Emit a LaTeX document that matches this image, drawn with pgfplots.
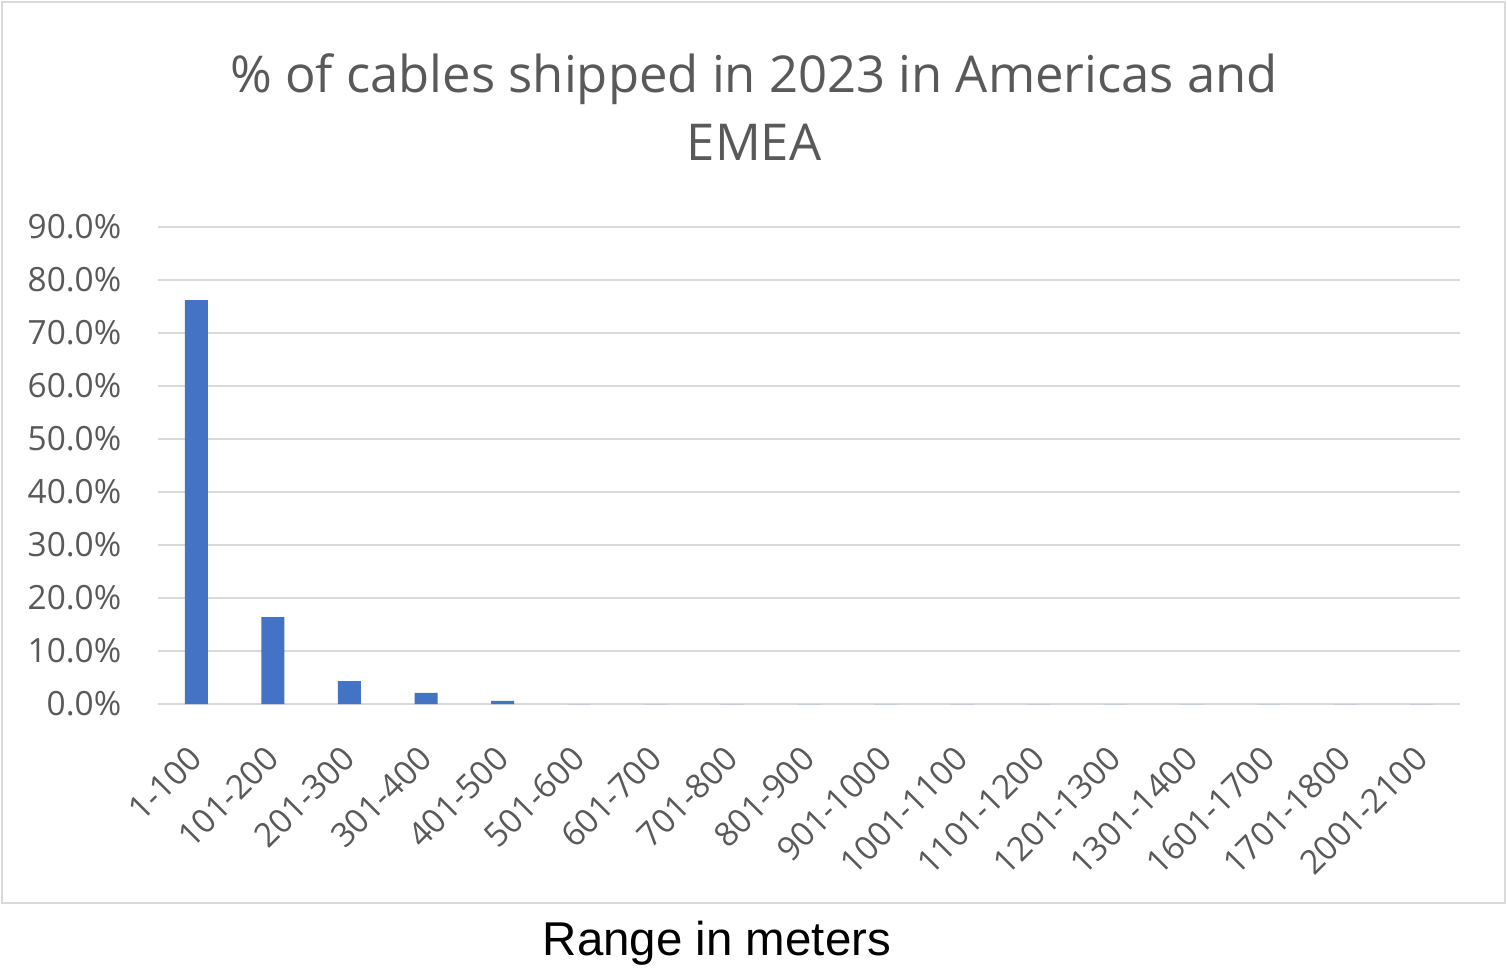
\documentclass[border=0pt]{standalone}
\usepackage{pgfplots}
\pgfplotsset{compat=1.18}
\usepackage{fontspec}
\setmainfont{Open Sans}
\newfontfamily\arialfont{Liberation Sans}
\definecolor{barblue}{HTML}{4472C4}
\definecolor{gridgray}{HTML}{D9D9D9}
\definecolor{textgray}{HTML}{595959}
\begin{document}
\begin{tikzpicture}
% page size and chart frame
\path[use as bounding box] (0,0) rectangle (15.07cm,-9.67cm);
\draw[gridgray, line width=0.6pt] (0.02cm,-0.02cm) rectangle (15.05cm,-9.03cm);
% title
\node[anchor=base, text=textgray, font=\fontsize{14.45}{17}\selectfont] at (7.54cm,-0.92cm) {\% of cables shipped in 2023 in Americas and};
\node[anchor=base, text=textgray, font=\fontsize{14.45}{17}\selectfont] at (7.54cm,-1.60cm) {EMEA};
\begin{axis}[
    at={(1.58cm,-7.04cm)}, anchor=south west,
    scale only axis,
    width=13.02cm, height=4.77cm,
    ybar, bar width=0.23cm,
    xmin=-0.5, xmax=16.5,
    ymin=0, ymax=90,
    xtick={0,...,16},
    xticklabels={1-100,101-200,201-300,301-400,401-500,501-600,601-700,701-800,801-900,901-1000,1001-1100,1101-1200,1201-1300,1301-1400,1601-1700,1701-1800,2001-2100},
    ytick={0,10,...,90},
    yticklabels={0.0\%,10.0\%,20.0\%,30.0\%,40.0\%,50.0\%,60.0\%,70.0\%,80.0\%,90.0\%},
    ymajorgrids,
    grid style={gridgray, line width=0.8pt},
    axis x line*=bottom,
    axis y line*=left,
    x axis line style={gridgray, line width=0.8pt},
    y axis line style={draw=none},
    major tick length=0pt,
    tick label style={font=\fontsize{9.5}{11}\selectfont, text=textgray},
    yticklabel style={anchor=east, inner sep=0pt, xshift=-0.36cm},
    % shifts are in the rotated frame: net move of 0.48cm straight down
    xticklabel style={rotate=45, anchor=east, inner sep=0pt, xshift=-0.34cm, yshift=-0.34cm},
    clip=false,
]
\addplot[fill=barblue, draw=none] coordinates {
(0,76.2) (1,16.4) (2,4.3) (3,2.1) (4,0.6) (5,0) (6,0) (7,0) (8,0) (9,0) (10,0) (11,0) (12,0) (13,0) (14,0) (15,0) (16,0)
};
\end{axis}
% axis title below the frame
\node[anchor=base, font=\arialfont\fontsize{13.5}{16}\selectfont] at (7.17cm,-9.55cm) {Range in meters};
\end{tikzpicture}
\end{document}
